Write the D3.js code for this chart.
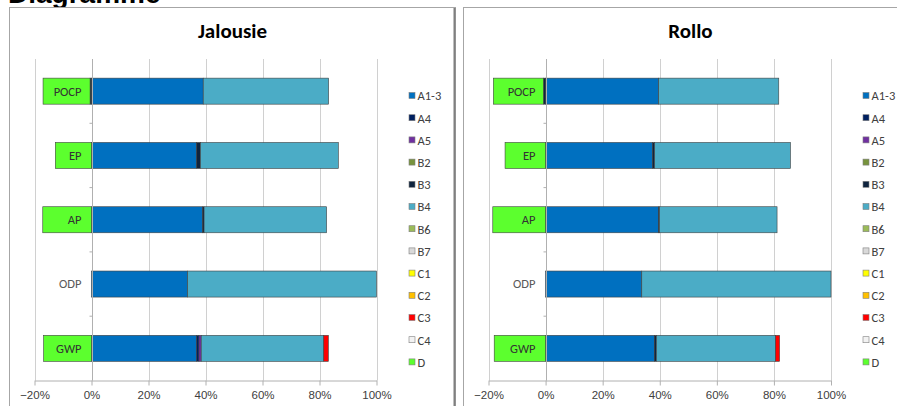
<!DOCTYPE html>
<html>
<head>
<meta charset="utf-8">
<script src="https://cdn.jsdelivr.net/npm/d3@7"></script>
<style>
  body { margin: 0; background: #fff; }
  svg { display: block; font-family: Carlito, Lato, "Open Sans", sans-serif; }
  .tick text { fill: #404040; }
</style>
</head>
<body>
<svg id="chart" width="897" height="406"></svg>
<script>
// categories (top to bottom) and legend keys
const categories = ["POCP", "EP", "AP", "ODP", "GWP"];
const seriesKeys = ["A1-3", "A4", "A5", "B2", "B3", "B4", "B6", "B7", "C1", "C2", "C3", "C4", "D"];
const xTicks = [-0.2, 0, 0.2, 0.4, 0.6, 0.8, 1.0];

// Jalousie, share in % per category
const jalA13 = [39.2, 36.9, 39.0, 33.7, 36.9];
const jalA4  = [0, 0, 0, 0, 0.8];
const jalA5  = [0, 0, 0, 0, 0.8];
const jalB3  = [-0.5, 1.3, 0.5, 0, 0];
const jalB4  = [44.0, 48.4, 43.0, 66.3, 43.0];
const jalC3  = [0, 0, 0, 0, 1.6];
const jalD   = [-16.5, -12.7, -17.1, 0, -16.8];

// Rollo
const rolA13 = [39.6, 37.5, 39.6, 33.7, 38.1];
const rolA4  = [0, 0, 0, 0, 0];
const rolA5  = [0, 0, 0, 0, 0];
const rolB3  = [-0.8, 0.7, 0.3, 0, 0.7];
const rolB4  = [42.1, 47.6, 41.2, 66.3, 41.8];
const rolC3  = [0, 0, 0, 0, 1.4];
const rolD   = [-17.5, -14.2, -18.5, 0, -18.0];

const colors = d3.scaleOrdinal()
    .domain(seriesKeys)
    .range(["#0070C0", "#002060", "#7030A0", "#77933C", "#0F243E", "#4BACC6",
            "#9BBB59", "#D9D9D9", "#FFFF00", "#FFC000", "#FF0000", "#F2F2F2", "#5CFF2E"]);

function buildRows(s) {
    return categories.map(function(c, i) {
        let row = { cat: c };
        seriesKeys.forEach(k => { row[k] = s[k] ? s[k][i] / 100 : 0; });
        return row;
    });
}

const svg = d3.select("#chart");

// heading, only its lower part shows at the top of the picture
svg.append("text")
    .attr("x", 8).attr("y", 3)
    .attr("font-family", "Liberation Sans, Arial, sans-serif")
    .attr("font-weight", "bold")
    .attr("font-size", 28)
    .attr("fill", "#000")
    .text("Diagramme");

function drawPanel(cfg) {
    let g = svg.append("g");

    // frame
    g.append("rect")
        .attr("x", cfg.frame[0]).attr("y", 7.5)
        .attr("width", cfg.frame[1] - cfg.frame[0]).attr("height", 420)
        .attr("fill", "#fff")
        .attr("stroke", "#a6a6a6");
    g.append("line")
        .attr("x1", cfg.frame[1] - 1).attr("x2", cfg.frame[1] - 1)
        .attr("y1", 8).attr("y2", 406)
        .attr("stroke", "#7f7f7f").attr("stroke-width", 2);

    g.append("text")
        .attr("x", (cfg.frame[0] + cfg.frame[1]) / 2).attr("y", 38)
        .attr("text-anchor", "middle")
        .attr("font-weight", "bold")
        .attr("font-size", 21)
        .attr("fill", "#000")
        .text(cfg.title);

    let x = d3.scaleLinear().domain([-0.2, 1]).range(cfg.xRange);
    let y = d3.scaleBand().domain(categories).range([59, 380.5])
        .paddingInner(0.595).paddingOuter(0.2975);

    // gridlines
    g.append("g").selectAll("line")
        .data(xTicks)
        .join("line")
        .attr("x1", d => Math.round(x(d)) + 0.5).attr("x2", d => Math.round(x(d)) + 0.5)
        .attr("y1", 59).attr("y2", 380.5)
        .attr("stroke", "#d0d0d0");

    // bottom axis
    let xAxis = d3.axisBottom(x).tickValues(xTicks)
        .tickFormat(d3.format(".0%")).tickSize(5).tickSizeOuter(0).tickPadding(5);
    let ax = g.append("g")
        .attr("transform", "translate(0,380.5)")
        .call(xAxis);
    ax.select(".domain").attr("stroke", "#b0b0b0");
    ax.selectAll(".tick line").attr("stroke", "#b0b0b0");
    ax.selectAll(".tick text").attr("font-size", 11.5);

    // stacked bars
    let rows = buildRows(cfg.series);
    let stacked = d3.stack().keys(seriesKeys).offset(d3.stackOffsetDiverging)(rows);

    g.append("g").selectAll("g")
        .data(stacked)
        .join("g")
        .attr("fill", d => colors(d.key))
        .selectAll("rect")
        .data(d => d.filter(p => p[1] - p[0] !== 0))
        .join("rect")
        .attr("x", d => x(Math.min(d[0], d[1])))
        .attr("width", d => Math.abs(x(d[1]) - x(d[0])))
        .attr("y", d => y(d.data.cat))
        .attr("height", y.bandwidth())
        .attr("stroke", "#404040")
        .attr("stroke-width", 0.6);

    // category axis at 0 %
    let x0 = Math.round(x(0)) + 0.5;
    g.append("line")
        .attr("x1", x0).attr("x2", x0).attr("y1", 59).attr("y2", 380.5)
        .attr("stroke", "#b0b0b0");
    let step = y.step();
    g.append("g").selectAll("line")
        .data(d3.range(1, categories.length))
        .join("line")
        .attr("x1", x0 - 3).attr("x2", x0)
        .attr("y1", i => 59 + i * step).attr("y2", i => 59 + i * step)
        .attr("stroke", "#b0b0b0");

    g.append("g").selectAll("text")
        .data(categories)
        .join("text")
        .attr("x", x0 - 11)
        .attr("y", d => y(d) + y.bandwidth() / 2)
        .attr("dy", "0.35em")
        .attr("text-anchor", "end")
        .attr("font-size", 12.5)
        .attr("fill", d => d === "ODP" ? "#595959" : "#333")
        .text(d => d);

    // legend
    let legend = g.append("g")
        .attr("transform", "translate(" + cfg.legendX + ",96)");
    let items = legend.selectAll("g")
        .data(seriesKeys)
        .join("g")
        .attr("transform", (d, i) => "translate(0," + (i * 22.2) + ")");
    items.append("rect")
        .attr("x", 0.5).attr("y", -3.5)
        .attr("width", 6).attr("height", 6)
        .attr("fill", d => colors(d))
        .attr("stroke", "#7f7f7f")
        .attr("stroke-width", 0.6);
    items.append("text")
        .attr("x", 9).attr("y", 0)
        .attr("dy", "0.35em")
        .attr("font-size", 12.5)
        .attr("fill", "#404040")
        .text(d => d);
}

drawPanel({
    title: "Jalousie",
    frame: [9.5, 455.5],
    xRange: [34.5, 376.5],
    legendX: 408.5,
    series: { "A1-3": jalA13, "A4": jalA4, "A5": jalA5, "B3": jalB3, "B4": jalB4, "C3": jalC3, "D": jalD }
});

drawPanel({
    title: "Rollo",
    frame: [463.5, 917.5],
    xRange: [488.5, 831],
    legendX: 862.5,
    series: { "A1-3": rolA13, "A4": rolA4, "A5": rolA5, "B3": rolB3, "B4": rolB4, "C3": rolC3, "D": rolD }
});
</script>
</body>
</html>
